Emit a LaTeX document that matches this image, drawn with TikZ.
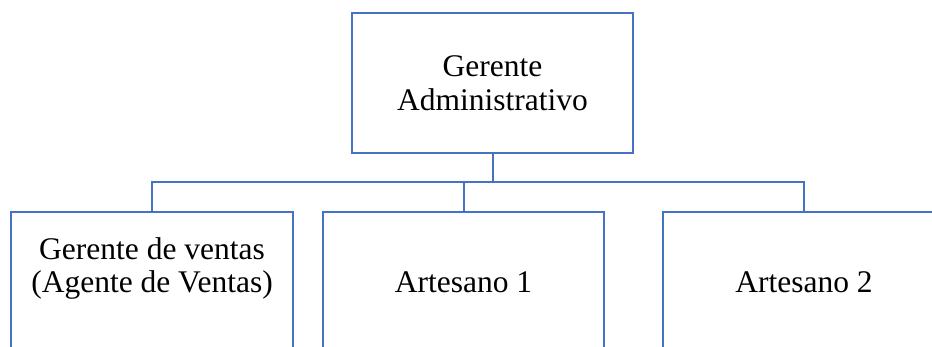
\documentclass[tikz,border=0pt]{standalone}
\usepackage{fontspec}
\setmainfont{Liberation Serif}
\definecolor{boxblue}{HTML}{4472C4}
\begin{document}
\begin{tikzpicture}[x=1pt,y=-1pt,
  orgbox/.style={draw=boxblue,line width=2pt,fill=white,minimum height=140pt,inner sep=0pt,align=center,font=\fontsize{31.5}{33.5}\selectfont},
  link/.style={draw=boxblue,line width=2pt}]
\useasboundingbox (0,0) rectangle (932,347);
\clip (0,0) rectangle (932,347);
\node[orgbox,minimum width=281pt] (top) at (492.5,83) {Gerente\\Administrativo};
\node[orgbox,minimum width=282pt] (left) at (152,282) {Gerente de ventas\\(Agente de Ventas)\\\mbox{}};
\node[orgbox,minimum width=281pt] (mid) at (463.5,282) {Artesano 1};
\node[orgbox,minimum width=282pt] (right) at (804,282) {Artesano 2};
\coordinate (bus) at (0,182.5);
\draw[link] (top.south) -- (top.south |- bus);
\draw[link] (left.north) -- (left.north |- bus) -- (right.north |- bus) -- (right.north);
\draw[link] (mid.north) -- (mid.north |- bus);
\end{tikzpicture}
\end{document}
